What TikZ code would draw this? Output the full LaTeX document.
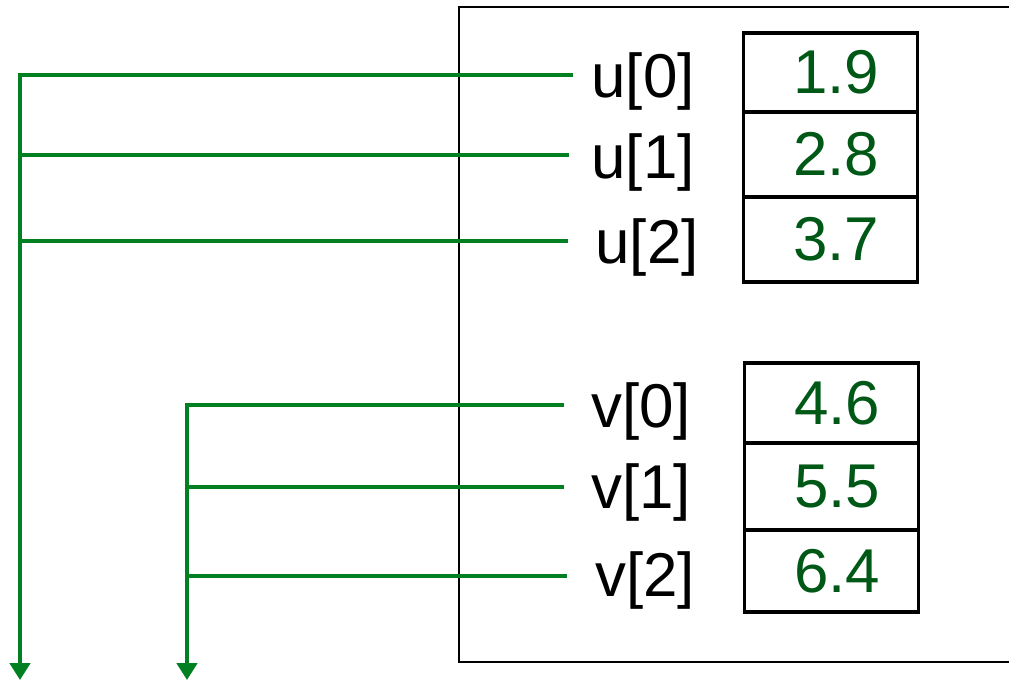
\documentclass[tikz,border=0pt]{standalone}
\usepackage{fontspec}
\setmainfont{Liberation Sans}
\usepackage{tikz}
\usetikzlibrary{positioning, arrows.meta}

\definecolor{wire}{RGB}{0,128,32}
\definecolor{val}{RGB}{0,88,22}

\begin{document}
\begin{tikzpicture}[x=0.025cm, y=-0.025cm]

% Define styles
\tikzstyle{lbl} = [inner sep=0pt, font=\fontsize{44}{50}\selectfont]
\tikzstyle{cell} = [rectangle, draw=black, line width=2.8pt, minimum width=4.35cm, text=val, font=\fontsize{44}{50}\selectfont, execute at begin node={\hspace*{8pt}}]
\tikzstyle{wireline} = [draw=wire, line width=2.8pt]
\tikzstyle{arrow} = [wireline, -{Triangle[length=0.42cm, width=0.5cm]}]

\useasboundingbox (0,0) rectangle (1009,680);

% Memory frame (open to the right)
\draw[line width=1.4pt] (1012,7) -- (459,7) -- (459,662) -- (1012,662);

% Array u
\node[lbl] (u0) at (643,81) {u[0]};
\node[lbl] (u1) at (643,162) {u[1]};
\node[lbl] (u2) at (647,247) {u[2]};
\node[cell, minimum height=1.98cm] (cu0) at (830.5,72.5) {1.9};
\node[cell, minimum height=2.12cm] (cu1) at (830.5,154.5) {2.8};
\node[cell, minimum height=2.12cm] (cu2) at (830.5,239.5) {3.7};

% Array v
\node[lbl] (v0) at (641,411) {v[0]};
\node[lbl] (v1) at (641,492) {v[1]};
\node[lbl] (v2) at (645,580) {v[2]};
\node[cell, minimum height=2cm] (cv0) at (831.5,403) {4.6};
\node[cell, minimum height=2.17cm] (cv1) at (831.5,486.5) {5.5};
\node[cell, minimum height=2.05cm] (cv2) at (831.5,571) {6.4};

% Trunks and branch points
\coordinate (utop) at (20,75);
\coordinate (ub1) at (20,155);
\coordinate (ub2) at (20,241);
\coordinate (ubot) at (20,680);
\coordinate (vtop) at (187,405);
\coordinate (vb1) at (187,487);
\coordinate (vb2) at (187,576);
\coordinate (vbot) at (187,680);
\draw[arrow] ([yshift=1.4pt]utop) -- (ubot);
\draw[arrow] ([yshift=1.4pt]vtop) -- (vbot);

% Branches to the labels
\draw[wireline] ([xshift=-13pt]u0.west |- utop) -- ([xshift=-1.4pt]utop);
\draw[wireline] ([xshift=-16pt]u1.west |- ub1) -- (ub1);
\draw[wireline] ([xshift=-19pt]u2.west |- ub2) -- (ub2);
\draw[wireline] ([xshift=-19pt]v0.west |- vtop) -- ([xshift=-1.4pt]vtop);
\draw[wireline] ([xshift=-19pt]v1.west |- vb1) -- (vb1);
\draw[wireline] ([xshift=-20pt]v2.west |- vb2) -- (vb2);

\end{tikzpicture}
\end{document}
